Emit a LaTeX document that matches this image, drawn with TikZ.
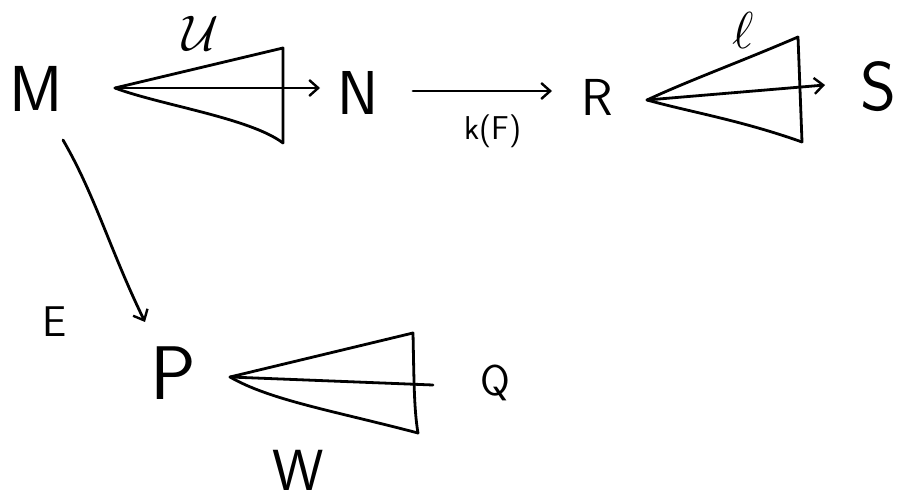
\RequirePackage{fix-cm}
\documentclass[tikz,border=0pt]{standalone}
\usepackage{fontspec}
\usetikzlibrary{arrows.meta}
\begin{document}
\begin{tikzpicture}[x=1pt,y=-1pt,
  ln/.style={line width=2.8pt,line cap=round,line join=round},
  arr/.style={ln,-{Straight Barb[length=9pt,width=16pt,line width=2.4pt]}},
  lab/.style={inner sep=0pt,font=\sffamily\fontsize{#1}{#1}\selectfont},
  lab/.default=60]
\useasboundingbox (0,0) rectangle (899,502);
% letters
\node[lab=65] (M) at (36,89) {M};
\node[lab=62] (N) at (358,93) {N};
\node[lab=52] (R) at (597,97) {R};
\node[lab=69] (S) at (878,87) {S};
\node[lab=43] (E) at (55,322) {E};
\node[lab=76] (P) at (173,373) {P};
\node[lab=43] (Q) at (495,383) {Q};
\node[lab=58] (W) at (298,470) {W};
\node[lab=33] (kF) at (493,131) {k(F)};
\node[inner sep=0pt,font=\fontsize{50}{50}\selectfont] (U) at (201,33) {$\mathcal{U}$};
\node[inner sep=0pt,font=\fontsize{52}{52}\selectfont] (L) at (743,30) {$\ell$};
% triangle 1
\coordinate (a1) at (115,88);
\coordinate (t1) at (283,48);
\coordinate (b1) at (283,143);
\coordinate (e1) at (320,88);
\draw[ln] (a1) -- (t1) -- (b1);
\draw[ln] (a1) .. controls (160,105) and (250,118) .. (b1);
\draw[arr] (a1) -- (e1);
% arrow N -> R
\coordinate (n1) at (413,91);
\coordinate (r1) at (552,91);
\draw[arr] (n1) -- (r1);
% triangle 2
\coordinate (a2) at (647,100);
\coordinate (t2) at (798,37);
\coordinate (b2) at (802,142);
\coordinate (e2) at (825,85);
\draw[ln] (a2) .. controls (690,80) and (740,62) .. (t2) -- (b2);
\draw[ln] (a2) .. controls (690,112) and (740,120) .. (b2);
\draw[arr] (a2) -- (e2);
% arrow M -> P
\coordinate (m1) at (63,140);
\coordinate (p1) at (145,322);
\draw[arr] (m1) .. controls (95,195) and (110,250) .. (p1);
% triangle 3
\coordinate (a3) at (230,377);
\coordinate (t3) at (413,333);
\coordinate (b3) at (418,433);
\coordinate (e3) at (433,385);
\draw[ln] (a3) -- (t3) .. controls (414,380) and (414,410) .. (b3);
\draw[ln] (a3) .. controls (270,400) and (330,410) .. (b3);
\draw[ln] (a3) -- (e3);
\end{tikzpicture}
\end{document}
